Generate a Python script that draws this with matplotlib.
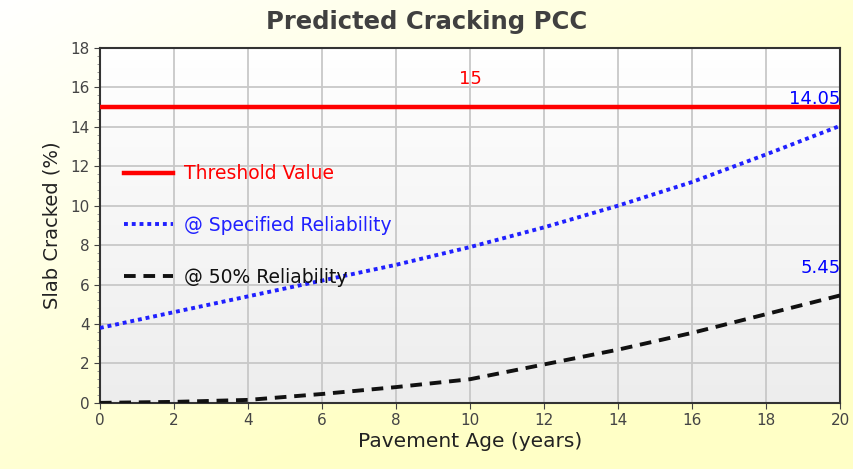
import matplotlib
matplotlib.use("Agg")
import matplotlib.pyplot as plt
import numpy as np
from matplotlib.ticker import MultipleLocator, AutoMinorLocator

# data
years = [0, 2, 4, 6, 8, 10, 12, 14, 16, 18, 20]
threshold = 15
specified = [3.8, 4.6, 5.4, 6.2, 7.0, 7.9, 8.9, 10.0, 11.2, 12.6, 14.05]
median = [0.0, 0.05, 0.15, 0.45, 0.8, 1.2, 1.95, 2.7, 3.55, 4.5, 5.45]

fig = plt.figure(figsize=(8.54, 4.69), dpi=100)

# figure background: white top-left fading to pale yellow
bg = fig.add_axes([0, 0, 1, 1], zorder=-10)
gx, gy = np.meshgrid(np.linspace(0, 1, 200), np.linspace(0, 1, 200))
t = np.clip((gx + gy) / 1.3, 0, 1)
top = np.array([1.0, 1.0, 1.0])
bot = np.array([1.0, 1.0, 0.78])
img = top[None, None, :] * (1 - t[..., None]) + bot[None, None, :] * t[..., None]
bg.imshow(img, extent=[0, 1, 0, 1], aspect="auto", origin="upper")
bg.axis("off")

ax = fig.add_axes([0.117, 0.141, 0.867, 0.757])

# plot area: white top fading to light gray
vg = np.linspace(1.0, 0.93, 100)[:, None]
ax.imshow(np.dstack([vg, vg, vg]), extent=[0, 20, 0, 18], aspect="auto",
          origin="upper", zorder=0)

ax.plot([years[0], years[-1]], [threshold, threshold], color="#ff0000", lw=3.2,
        label="Threshold Value", zorder=3)
ax.plot(years, specified, color="#2020ff", lw=2.8, linestyle=(0, (1, 1)),
        label="@ Specified Reliability", zorder=3)
ax.plot(years, median, color="#111111", lw=2.8, linestyle=(0, (3, 2)),
        label="@ 50% Reliability", zorder=3)

ax.text(10, 16.4, "15", color="#ff0000", fontsize=13, ha="center", va="center")
ax.text(20, 15.4, "14.05", color="#0000ff", fontsize=13, ha="right", va="center")
ax.text(20, 6.85, "5.45", color="#0000ff", fontsize=13, ha="right", va="center")

ax.set_xlim(0, 20)
ax.set_ylim(0, 18)
ax.xaxis.set_major_locator(MultipleLocator(2))
ax.yaxis.set_major_locator(MultipleLocator(2))
ax.yaxis.set_minor_locator(AutoMinorLocator(5))
ax.grid(True, which="major", color="#c8c8c8", lw=1.3, zorder=1)
ax.set_axisbelow(True)
for s in ax.spines.values():
    s.set_color("#333333")
    s.set_linewidth(1.5)
ax.tick_params(axis="both", which="major", direction="out", length=4,
               colors="#444444", labelsize=11)
ax.tick_params(axis="y", which="minor", direction="out", length=2, color="#888888")

ax.set_xlabel("Pavement Age (years)", fontsize=14.5, color="#222222", labelpad=3)
ax.set_ylabel("Slab Cracked (%)", fontsize=14, color="#222222", labelpad=6)
fig.text(0.5, 0.953, "Predicted Cracking PCC", ha="center", va="center",
         fontsize=17.5, fontweight="bold", color="#404040")

leg = ax.legend(loc="upper left", bbox_to_anchor=(0.01, 0.72), frameon=False,
                fontsize=13.5, handlelength=2.6, handletextpad=0.6,
                labelspacing=1.75)
for txt, c in zip(leg.get_texts(), ["#ff0000", "#2020ff", "#111111"]):
    txt.set_color(c)

fig.savefig("out.png", dpi=100)
